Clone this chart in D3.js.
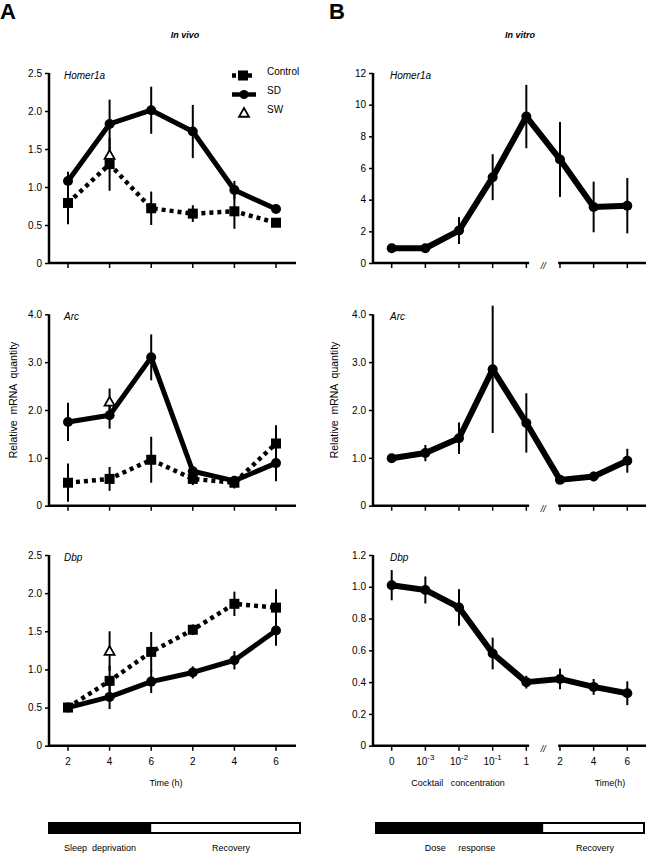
<!DOCTYPE html>
<html><head><meta charset="utf-8">
<script src="https://cdn.jsdelivr.net/npm/d3@7"></script>
<style>body{margin:0;background:#fff}svg{display:block}text{font-family:"Liberation Sans",Arial,sans-serif;fill:#000}</style>
</head><body>
<script>
// ---------- DATA ----------
const xLabelsA = ["2","4","6","2","4","6"];
const xLabelsB = [["0",""],["10","-3"],["10","-2"],["10","-1"],["1",""],["2",""],["4",""],["6",""]];

// In vivo, Homer1a
const homerCtrl    = [0.79, 1.30, 0.72, 0.65, 0.68, 0.53];
const homerCtrlErr = [0.28, 0.35, 0.22, 0.11, 0.23, 0.03];
const homerSD      = [1.08, 1.83, 2.01, 1.73, 0.96, 0.71];
const homerSDErr   = [0.12, 0.32, 0.31, 0.35, 0.12, 0.03];
const homerSW      = 1.42, homerSWErr = 0.10;
// In vivo, Arc
const arcCtrl    = [0.48, 0.56, 0.96, 0.56, 0.48, 1.30];
const arcCtrlErr = [0.40, 0.25, 0.48, 0.13, 0.12, 0.38];
const arcSD      = [1.75, 1.89, 3.10, 0.72, 0.52, 0.89];
const arcSDErr   = [0.40, 0.28, 0.48, 0.10, 0.10, 0.38];
const arcSW      = 2.17, arcSWErr = 0.28;
// In vivo, Dbp
const dbpCtrl    = [0.50, 0.85, 1.23, 1.52, 1.86, 1.81];
const dbpCtrlErr = [0.03, 0.20, 0.26, 0.07, 0.16, 0.24];
const dbpSD      = [0.50, 0.64, 0.84, 0.96, 1.12, 1.51];
const dbpSDErr   = [0.03, 0.16, 0.15, 0.08, 0.12, 0.20];
const dbpSW      = 1.24, dbpSWErr = 0.26;
// In vitro
const vitroHomer    = [0.93, 0.93, 2.05, 5.42, 9.25, 6.54, 3.54, 3.62];
const vitroHomerErr = [0.10, 0.10, 0.85, 1.45, 2.00, 2.37, 1.60, 1.75];
const vitroArc      = [0.99, 1.10, 1.41, 2.85, 1.73, 0.54, 0.61, 0.94];
const vitroArcErr   = [0.08, 0.17, 0.33, 1.33, 0.62, 0.05, 0.10, 0.25];
const vitroDbp      = [1.01, 0.98, 0.87, 0.58, 0.40, 0.42, 0.37, 0.33];
const vitroDbpErr   = [0.095, 0.085, 0.115, 0.10, 0.04, 0.065, 0.05, 0.075];

const ticksA1 = [0, 0.5, 1.0, 1.5, 2.0, 2.5];
const ticksArc = [0, 1.0, 2.0, 3.0, 4.0];
const ticksB1 = [0, 2, 4, 6, 8, 10, 12];
const ticksB3 = [0, 0.2, 0.4, 0.6, 0.8, 1.0, 1.2];
const legendNames = ["Control", "SD", "SW"];
const phasesA = ["Sleep  deprivation", "Recovery"];
const phasesB = ["Dose     response", "Recovery"];

// ---------- DRAW ----------
const W = 646, H = 853;
const svg = d3.select("body").append("svg").attr("width", W).attr("height", H);

const rows = [{y0: 263, yT: 73}, {y0: 505.7, yT: 314.3}, {y0: 745.7, yT: 555}];
const xA = d3.scaleLinear().domain([0, 5]).range([68, 276]);
const xB = d3.scaleLinear().domain([0, 7]).range([391.7, 627.3]);
const axA = 49, axB = 373;

function fmt1(d){ return d === 0 ? "0" : d3.format(".1f")(d); }

function yAxis(y, axX, ticks, f){
  const g = svg.append("g").attr("transform", `translate(${axX},0)`);
  g.call(d3.axisLeft(y).tickValues(ticks).tickFormat(f).tickSizeOuter(0).tickSize(4).tickPadding(3));
  g.select(".domain").attr("stroke-width", 2.5).attr("d", `M0,${y.range()[0]+1}V${y.range()[1]}`);
  g.selectAll(".tick line").attr("stroke-width", 1.5);
  g.selectAll(".tick text").attr("font-size", 10).attr("font-family", "Liberation Sans, Arial");
}

function xAxisA(y0, labels){
  svg.append("line").attr("x1", axA).attr("x2", 296).attr("y1", y0).attr("y2", y0)
    .attr("stroke", "#000").attr("stroke-width", 2.5);
  d3.range(6).forEach(i => {
    svg.append("line").attr("x1", xA(i)).attr("x2", xA(i)).attr("y1", y0).attr("y2", y0 + 5)
      .attr("stroke", "#000").attr("stroke-width", 1.5);
    if (labels) svg.append("text").attr("x", xA(i)).attr("y", y0 + 19).attr("text-anchor", "middle")
      .attr("font-size", 10).text(labels[i]);
  });
}
function xAxisB(y0, labels){
  const brk1 = (xB(4) + xB(5)) / 2 - 14, brk2 = (xB(4) + xB(5)) / 2 + 15;
  svg.append("line").attr("x1", axB).attr("x2", brk1).attr("y1", y0).attr("y2", y0)
    .attr("stroke", "#000").attr("stroke-width", 2.5);
  svg.append("line").attr("x1", brk2).attr("x2", 646).attr("y1", y0).attr("y2", y0)
    .attr("stroke", "#000").attr("stroke-width", 2.5);
  svg.append("text").attr("x", (xB(4) + xB(5)) / 2).attr("y", y0 + 6).attr("text-anchor", "middle")
    .attr("font-size", 9).attr("font-style", "italic").text("//");
  d3.range(8).forEach(i => {
    svg.append("line").attr("x1", xB(i)).attr("x2", xB(i)).attr("y1", y0).attr("y2", y0 + 5)
      .attr("stroke", "#000").attr("stroke-width", 1.5);
    if (labels) {
      const t = svg.append("text").attr("x", xB(i)).attr("y", y0 + 19).attr("text-anchor", "middle")
        .attr("font-size", 10);
      t.append("tspan").text(labels[i][0]);
      if (labels[i][1]) t.append("tspan").attr("dy", -5).attr("font-size", 8).text(labels[i][1]);
    }
  });
}

function errBars(x, y, vals, errs, idx){
  vals.forEach((v, i) => {
    const xi = idx ? idx[i] : i;
    svg.append("line").attr("x1", x(xi)).attr("x2", x(xi)).attr("y1", y(v - errs[i])).attr("y2", y(v + errs[i]))
      .attr("stroke", "#000").attr("stroke-width", 2);
  });
}
function sdLine(x, y, vals, w, r){
  svg.append("path").datum(vals).attr("fill", "none").attr("stroke", "#000").attr("stroke-width", w)
    .attr("stroke-linejoin", "round")
    .attr("d", d3.line().x((d, i) => x(i)).y(d => y(d)));
  vals.forEach((v, i) => svg.append("circle").attr("cx", x(i)).attr("cy", y(v)).attr("r", r).attr("fill", "#000"));
}
function ctrlLine(x, y, vals){
  svg.append("path").datum(vals).attr("fill", "none").attr("stroke", "#000").attr("stroke-width", 4.5)
    .attr("stroke-dasharray", "4,4")
    .attr("d", d3.line().x((d, i) => x(i)).y(d => y(d)));
  vals.forEach((v, i) => svg.append("rect").attr("x", x(i) - 5).attr("y", y(v) - 5)
    .attr("width", 10).attr("height", 10).attr("fill", "#000"));
}
function triangle(cx, cy){
  const s = 5;
  svg.append("path").attr("d", `M${cx},${cy - s}L${cx + s},${cy + s * 0.75}L${cx - s},${cy + s * 0.75}Z`)
    .attr("fill", "#fff").attr("stroke", "#000").attr("stroke-width", 1.8);
}
function geneLabel(x, y, t){
  svg.append("text").attr("x", x).attr("y", y).attr("font-size", 10).attr("font-style", "italic").text(t);
}

// ---- Panel A ----
const invivo = [
  {ctrl: homerCtrl, ce: homerCtrlErr, sd: homerSD, se: homerSDErr, sw: homerSW, swe: homerSWErr, max: 2.5, ticks: ticksA1, gene: "Homer1a"},
  {ctrl: arcCtrl, ce: arcCtrlErr, sd: arcSD, se: arcSDErr, sw: arcSW, swe: arcSWErr, max: 4.0, ticks: ticksArc, gene: "Arc"},
  {ctrl: dbpCtrl, ce: dbpCtrlErr, sd: dbpSD, se: dbpSDErr, sw: dbpSW, swe: dbpSWErr, max: 2.5, ticks: ticksA1, gene: "Dbp"}
];
invivo.forEach((p, r) => {
  const y = d3.scaleLinear().domain([0, p.max]).range([rows[r].y0, rows[r].yT]);
  yAxis(y, axA, p.ticks, fmt1);
  xAxisA(rows[r].y0, r === 2 ? xLabelsA : null);
  errBars(xA, y, p.ctrl, p.ce);
  errBars(xA, y, p.sd, p.se);
  errBars(xA, y, [p.sw], [p.swe], [1]);
  ctrlLine(xA, y, p.ctrl);
  sdLine(xA, y, p.sd, 5, 5);
  triangle(xA(1), y(p.sw));
  geneLabel(64, rows[r].yT + 6, p.gene);
});

// ---- Panel B ----
const invitro = [
  {v: vitroHomer, e: vitroHomerErr, max: 12, ticks: ticksB1, f: d3.format("d"), gene: "Homer1a"},
  {v: vitroArc, e: vitroArcErr, max: 4.0, ticks: ticksArc, f: fmt1, gene: "Arc"},
  {v: vitroDbp, e: vitroDbpErr, max: 1.2, ticks: ticksB3, f: fmt1, gene: "Dbp"}
];
invitro.forEach((p, r) => {
  const y = d3.scaleLinear().domain([0, p.max]).range([rows[r].y0, rows[r].yT]);
  yAxis(y, axB, p.ticks, p.f);
  xAxisB(rows[r].y0, r === 2 ? xLabelsB : null);
  errBars(xB, y, p.v, p.e);
  sdLine(xB, y, p.v, 6, 5);
  geneLabel(390, rows[r].yT + 6, p.gene);
});

// ---- Legend ----
const lg = [75.5, 94.5, 113];
svg.append("line").attr("x1", 232).attr("x2", 254).attr("y1", lg[0]).attr("y2", lg[0])
  .attr("stroke", "#000").attr("stroke-width", 4.5).attr("stroke-dasharray", "4,4").attr("stroke-dashoffset", 0);
svg.append("rect").attr("x", 243 - 5).attr("y", lg[0] - 5).attr("width", 10).attr("height", 10).attr("fill", "#000");
svg.append("line").attr("x1", 232).attr("x2", 256).attr("y1", lg[1]).attr("y2", lg[1])
  .attr("stroke", "#000").attr("stroke-width", 4.5);
svg.append("circle").attr("cx", 244).attr("cy", lg[1]).attr("r", 4.5).attr("fill", "#000");
triangle(244, lg[2]);
legendNames.forEach((n, i) => svg.append("text").attr("x", 267).attr("y", lg[i] - 0.5).attr("font-size", 10).text(n));

// ---- Titles ----
svg.append("text").attr("x", 0).attr("y", 19).attr("font-size", 22).attr("font-weight", "bold").text("A");
svg.append("text").attr("x", 329).attr("y", 19).attr("font-size", 22).attr("font-weight", "bold").text("B");
svg.append("text").attr("x", 185).attr("y", 38).attr("text-anchor", "middle").attr("font-size", 9)
  .attr("font-style", "italic").attr("font-weight", "bold").text("In vivo");
svg.append("text").attr("x", 520).attr("y", 38).attr("text-anchor", "middle").attr("font-size", 9)
  .attr("font-style", "italic").attr("font-weight", "bold").text("In vitro");
[[17, 400], [338, 400]].forEach(([x, y]) =>
  svg.append("text").attr("transform", `translate(${x},${y}) rotate(-90)`).attr("text-anchor", "middle")
    .attr("font-size", 10.5).attr("xml:space", "preserve").style("white-space", "pre")
    .text("Relative  mRNA  quantity"));

svg.append("text").attr("x", 166).attr("y", 786).attr("text-anchor", "middle").attr("font-size", 9).text("Time (h)");
svg.append("text").attr("x", 458).attr("y", 786).attr("text-anchor", "middle").attr("font-size", 9)
  .attr("xml:space", "preserve").style("white-space", "pre").text("Cocktail   concentration");
svg.append("text").attr("x", 610).attr("y", 786).attr("text-anchor", "middle").attr("font-size", 9).text("Time(h)");

// ---- Phase bars ----
function phaseBar(x0, xm, x1, labels, lx){
  svg.append("rect").attr("x", x0).attr("y", 823).attr("width", x1 - x0).attr("height", 10)
    .attr("fill", "#fff").attr("stroke", "#000").attr("stroke-width", 2);
  svg.append("rect").attr("x", x0).attr("y", 822).attr("width", xm - x0).attr("height", 12).attr("fill", "#000");
  labels.forEach((t, i) => svg.append("text").attr("x", lx[i]).attr("y", 851).attr("text-anchor", "middle")
    .attr("font-size", 9).attr("xml:space", "preserve").style("white-space", "pre").text(t));
}
phaseBar(49, xA(2), 300, phasesA, [100, 231]);
phaseBar(376, (xB(4) + xB(5)) / 2, 644, phasesB, [460, 595]);
</script>
</body></html>
